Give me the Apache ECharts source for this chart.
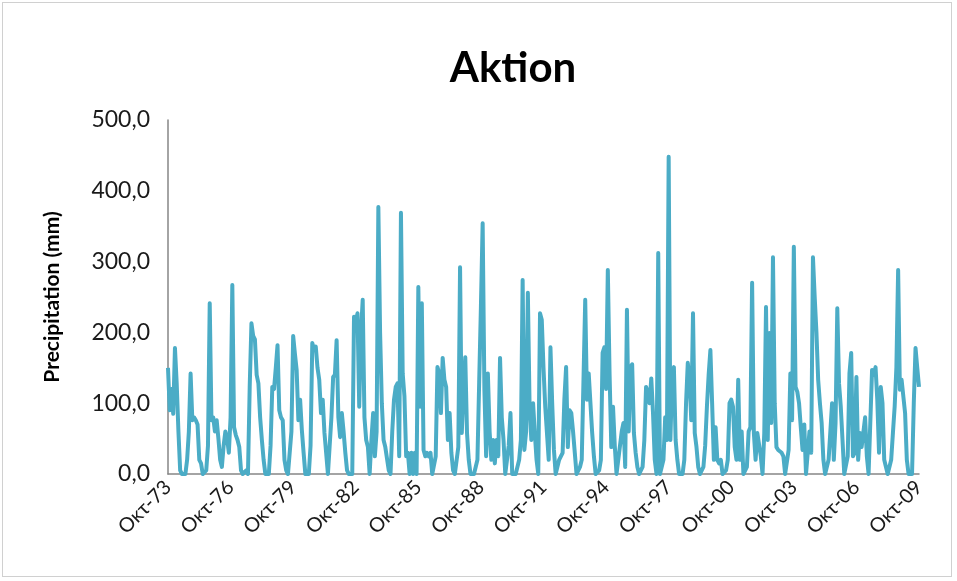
<!DOCTYPE html>
<html>
<head>
<meta charset="utf-8">
<script src="https://cdn.jsdelivr.net/npm/echarts@6/dist/echarts.min.js"></script>
<style>
html,body{margin:0;padding:0;background:#fff;}
#frame{position:absolute;left:2px;top:2px;width:950px;height:575px;border:1px solid #d0d0d0;box-sizing:border-box;}
#chart{position:absolute;left:0;top:0;width:957px;height:581px;}
</style>
</head>
<body>
<div id="frame"></div>
<div id="chart"></div>
<script>
// Chart title and axis name
const chartTitle = "Aktion";
const yAxisName = "Precipitation (mm)";
// Month abbreviations (Greek) used to build the monthly categories
const monthNames = ["Οκτ","Νοε","Δεκ","Ιαν","Φεβ","Μαρ","Απρ","Μαϊ","Ιουν","Ιουλ","Αυγ","Σεπ"];
const startYear = 1973; // October 1973
// Y tick labels
const yTicks = [0, 100, 200, 300, 400, 500];

// Monthly precipitation (mm), Oct 1973 - Oct 2009
const precip1973_1979 = [
 150,90,120,85,178,128,60,5,0,0,0,20,
 60,142,76,80,76,70,20,15,0,0,5,40,
 241,76,80,60,76,50,20,10,40,60,50,30,
 80,267,66,55,48,38,5,0,0,5,0,123,
 213,195,190,140,128,80,48,20,0,0,0,40,
 123,120,150,182,90,80,76,20,5,0,0,60
];
const precip1979_1985 = [
 195,170,147,76,105,62,30,0,0,0,40,185,
 175,180,150,133,86,105,58,60,0,0,80,137,
 140,189,80,52,86,60,30,5,0,0,0,222,
 215,227,95,200,246,80,48,38,0,48,86,25,
 60,377,200,100,48,38,38,5,0,60,105,123,
 128,25,369,142,110,25,30,0,30,0,30,0
];
const precip1985_1991 = [
 264,95,241,34,25,30,25,30,0,0,25,151,
 142,86,164,133,123,48,86,30,5,0,0,38,
 292,58,120,165,58,20,0,0,0,10,20,130,
 236,354,119,25,142,60,20,48,15,48,25,164,
 80,48,0,0,40,86,0,0,0,10,20,48,
 274,34,60,256,95,48,100,58,20,0,227,218
];
const precip1991_1997 = [
 150,95,95,20,179,100,34,0,0,20,25,30,
 105,151,38,90,86,60,30,0,0,10,20,20,
 246,105,142,140,58,25,0,0,5,20,171,179,
 120,288,142,38,95,40,0,0,40,60,72,10,
 232,60,151,155,58,30,10,0,0,10,48,123,
 116,100,135,86,20,0,312,0,10,20,80,48
];
const precip1997_2003 = [
 448,48,140,151,48,20,0,0,0,20,100,157,
 133,76,227,58,38,10,0,0,10,40,95,140,
 175,100,20,66,20,15,20,0,0,5,20,100,
 105,95,38,20,133,20,60,0,0,10,60,66,
 270,58,20,58,58,25,0,58,236,48,199,72,
 306,100,38,34,34,30,25,0,0,34,142,76
];
const precip2003_2009 = [
 321,123,116,100,66,34,70,0,0,60,30,306,
 250,200,133,100,72,20,0,0,20,60,100,20,
 72,234,128,95,48,0,0,25,142,171,25,30,
 137,20,58,38,40,80,25,0,0,147,140,151,
 105,30,123,100,20,10,0,0,20,58,95,151,
 288,119,133,133,86,20,0,0,0,100,178,150,
 123
];

const values = [].concat(precip1973_1979, precip1979_1985, precip1985_1991,
                         precip1991_1997, precip1997_2003, precip2003_2009);
const categories = values.map((v, i) => {
  const m = i % 12;
  const yr = startYear + Math.floor((i + 9) / 12);
  return monthNames[m] + "-" + String(yr % 100).padStart(2, "0");
});

const chart = echarts.init(document.getElementById("chart"), null, {renderer: "canvas"});
const fontFam = "Lato, 'Open Sans', 'Noto Sans', sans-serif";
chart.setOption({
  animation: false,
  backgroundColor: "transparent",
  title: {
    text: chartTitle,
    left: 508, top: 42, textAlign: "center",
    textStyle: {fontFamily: fontFam, fontSize: 42, fontWeight: "bold", color: "#000"}
  },
  grid: {left: 168, right: 38, top: 120, bottom: 107, containLabel: false},
  xAxis: {
    type: "category",
    data: categories,
    boundaryGap: false,
    axisLine: {show: true, lineStyle: {color: "#868686", width: 1.5}},
    axisTick: {show: false},
    splitLine: {show: false},
    axisLabel: {
      interval: 35,
      rotate: 45,
      margin: 10,
      fontFamily: fontFam, fontSize: 20, color: "#1a1a1a",
      showMaxLabel: true
    }
  },
  yAxis: {
    type: "value",
    min: yTicks[0], max: yTicks[yTicks.length - 1], interval: 100,
    name: yAxisName,
    nameLocation: "middle",
    nameGap: 105,
    nameRotate: 90,
    nameTextStyle: {fontFamily: fontFam, fontSize: 21, fontWeight: "bold", color: "#000"},
    axisLine: {show: true, lineStyle: {color: "#868686", width: 1.5}},
    axisTick: {show: false},
    splitLine: {show: false},
    axisLabel: {
      fontFamily: fontFam, fontSize: 23, color: "#1a1a1a", margin: 18,
      formatter: v => v.toFixed(1).replace(".", ",")
    }
  },
  series: [{
    type: "line",
    data: values,
    showSymbol: false,
    symbol: "none",
    lineStyle: {color: "#4BACC6", width: 4, join: "round"},
    itemStyle: {color: "#4BACC6"}
  }]
});
</script>
</body>
</html>
